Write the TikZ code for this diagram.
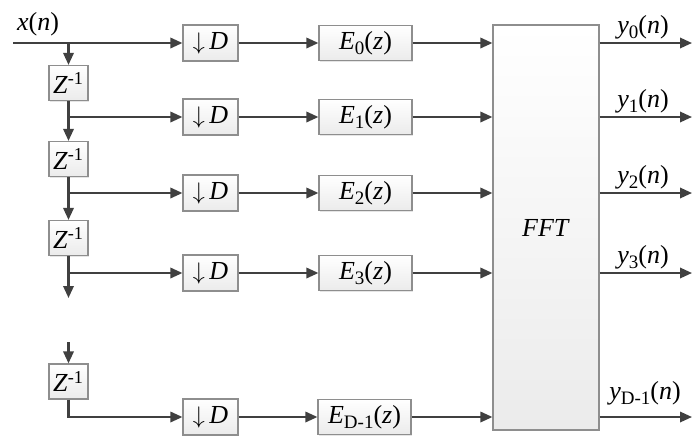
\documentclass[tikz,border=0pt]{standalone}
\usepackage{fontspec}
\setmainfont{Liberation Serif}
\usetikzlibrary{arrows.meta,positioning,shadows}
\definecolor{polyInk}{HTML}{404040}
\definecolor{polyEdge}{HTML}{8E8E8E}
\definecolor{polyTop}{HTML}{FFFFFF}
\definecolor{polyBottom}{HTML}{EBEBEB}
\tikzset{
  poly/base/.style={draw=polyEdge, line width=0.6pt, top color=polyTop,
    bottom color=polyBottom, inner sep=0pt, align=center,
    font=\fontsize{13}{15}\selectfont,
    drop shadow={shadow xshift=0.7pt, shadow yshift=-0.7pt, fill=black!20}},
  poly/delay/.style={poly/base, minimum width=19.5pt, minimum height=17.5pt},
  poly/down/.style={poly/base, minimum width=27.5pt, minimum height=18pt},
  poly/branch/.style={poly/base, minimum width=46.5pt, minimum height=17.5pt},
  poly/fft/.style={poly/base, minimum width=53pt, minimum height=202.5pt},
  poly/arrow/.style={-{Triangle[length=6pt,width=5.2pt]}, draw=polyInk,
    line width=1.05pt},
  poly/label/.style={font=\fontsize{13}{15}\selectfont, inner sep=1pt},
}
\newcommand{\dnD}{$\downarrow$\,\textit{D}}
\newcommand{\lowsub}[1]{\raisebox{-0.45ex}{\fontsize{9.5}{10}\selectfont #1}}

\begin{document}
\begin{tikzpicture}[x=0.5pt, y=-0.5pt]
\useasboundingbox (0,0) rectangle (700,445);

% delay chain
\node[poly/delay] (z1) at (68.5,83) {\textit{Z}\textsuperscript{-1}};
\node[poly/delay] (z2) at (68.5,159) {\textit{Z}\textsuperscript{-1}};
\node[poly/delay] (z3) at (68.5,238) {\textit{Z}\textsuperscript{-1}};
\node[poly/delay] (zD) at (68.5,381.5) {\textit{Z}\textsuperscript{-1}};

% decimators
\node[poly/down] (d0) at (210.5,43) {\dnD};
\node[poly/down] (d1) at (210.5,117) {\dnD};
\node[poly/down] (d2) at (210.5,193) {\dnD};
\node[poly/down] (d3) at (210.5,273) {\dnD};
\node[poly/down] (dD) at (210.5,417) {\dnD};

% polyphase branches
\node[poly/branch] (e0) at (365.5,43) {\textit{E}\lowsub{0}(\textit{z})};
\node[poly/branch] (e1) at (365.5,117) {\textit{E}\lowsub{1}(\textit{z})};
\node[poly/branch] (e2) at (365.5,193) {\textit{E}\lowsub{2}(\textit{z})};
\node[poly/branch] (e3) at (365.5,273) {\textit{E}\lowsub{3}(\textit{z})};
\node[poly/branch] (eD) at (364.5,417) {\textit{E}\lowsub{D-1}(\textit{z})};

\node[poly/fft] (fft) at (546,227.5) {\textit{FFT}};

% input and taps
\node[poly/label] (xin) at (38,24) {\textit{x}(\textit{n})};
\coordinate (in) at (13,43);
\coordinate (tap0) at (68.5,43);
\coordinate (tap1) at (68.5,117);
\coordinate (tap2) at (68.5,193);
\coordinate (tap3) at (68.5,273);
\coordinate (cut) at (68.5,298);
\coordinate (resume) at (68.5,342);

\draw[poly/arrow] (in) -- (d0);
\draw[poly/arrow] (tap0) -- (z1);
\draw[poly/arrow] (z1) -- (tap1) -- (z2);
\draw[poly/arrow] (z2) -- (tap2) -- (z3);
\draw[poly/arrow] (z3) -- (cut);
\draw[poly/arrow] (resume) -- (zD);
\draw[poly/arrow] (tap1) -- (d1);
\draw[poly/arrow] (tap2) -- (d2);
\draw[poly/arrow] (tap3) -- (d3);
\draw[poly/arrow] (zD.south) |- (dD.west);

\draw[poly/arrow] (d0) -- (e0);
\draw[poly/arrow] (d1) -- (e1);
\draw[poly/arrow] (d2) -- (e2);
\draw[poly/arrow] (d3) -- (e3);
\draw[poly/arrow] (dD) -- (eD);

\draw[poly/arrow] (e0) -- (e0 -| fft.west);
\draw[poly/arrow] (e1) -- (e1 -| fft.west);
\draw[poly/arrow] (e2) -- (e2 -| fft.west);
\draw[poly/arrow] (e3) -- (e3 -| fft.west);
\draw[poly/arrow] (eD) -- (eD -| fft.west);

% outputs
\coordinate (o0) at (692,43);
\coordinate (o1) at (692,117);
\coordinate (o2) at (692,193);
\coordinate (o3) at (692,273);
\coordinate (oD) at (692,417);
\draw[poly/arrow] (o0 -| fft.east) -- (o0);
\draw[poly/arrow] (o1 -| fft.east) -- (o1);
\draw[poly/arrow] (o2 -| fft.east) -- (o2);
\draw[poly/arrow] (o3 -| fft.east) -- (o3);
\draw[poly/arrow] (oD -| fft.east) -- (oD);

\node[poly/label] (y0) at (643,27) {\textit{y}\lowsub{0}(\textit{n})};
\node[poly/label] (y1) at (643,101) {\textit{y}\lowsub{1}(\textit{n})};
\node[poly/label] (y2) at (643,177) {\textit{y}\lowsub{2}(\textit{n})};
\node[poly/label] (y3) at (643,257) {\textit{y}\lowsub{3}(\textit{n})};
\node[poly/label] (yD) at (645,393) {\textit{y}\lowsub{D-1}(\textit{n})};
\end{tikzpicture}
\end{document}
